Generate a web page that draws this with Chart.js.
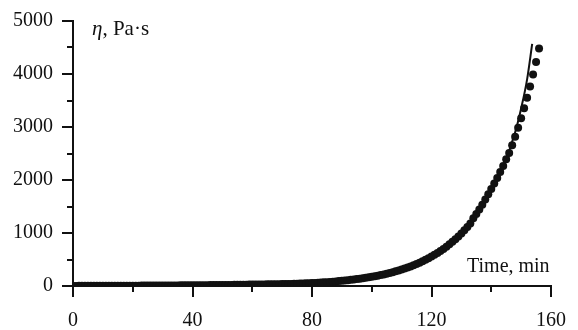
<!DOCTYPE html>
<html>
<head>
<meta charset="utf-8">
<script src="https://cdn.jsdelivr.net/npm/chart.js@4.4.1/dist/chart.umd.min.js"></script>
<style>body{margin:0;background:#fff}</style>
</head>
<body>
<canvas id="viscChart" width="578" height="330"></canvas>
<script>
// measured viscosity, one point per minute starting at t = 0 min
const startMin = 0;
const viscosityMeasured = [
    2, 2, 3, 3, 3, 3, 4, 4, 4, 4, 5, 5, 5, 5, 5, 6, 6, 6, 6, 7,
    7, 7, 7, 8, 8, 8, 8, 9, 9, 9, 10, 10, 10, 11, 11, 11, 12, 12, 12, 13,
    14, 14, 15, 15, 16, 16, 17, 17, 18, 19, 19, 20, 21, 21, 22, 23, 24, 25, 25, 26,
    26, 27, 28, 29, 30, 31, 32, 33, 34, 35, 36, 37, 39, 40, 42, 44, 46, 48, 50, 52,
    55, 58, 61, 65, 69, 73, 77, 82, 87, 92, 97, 103, 109, 116, 123, 130, 138, 146, 155, 164,
    174, 184, 195, 207, 219, 233, 246, 261, 277, 293, 311, 329, 349, 370, 392, 415, 440, 466, 494, 524,
    555, 588, 623, 661, 700, 742, 786, 833, 883, 935, 991, 1051, 1113, 1180, 1280, 1360, 1445, 1535, 1630, 1730,
    1830, 1935, 2040, 2150, 2265, 2390, 2508, 2658, 2816, 2985, 3163, 3352, 3552, 3764, 3989, 4227, 4480
];

// model curve (solid line)
const modelTime = [0, 40, 80, 100, 110, 120, 130, 135, 140, 144, 148, 150, 152, 153.7];
const modelViscosity = [3, 12, 55, 175, 315, 560, 1000, 1340, 1820, 2260, 2900, 3350, 3900, 4570];

const xTicks = [0, 40, 80, 120, 160];
const xMinorTicks = [20, 60, 100, 140];
const yTicks = [0, 1000, 2000, 3000, 4000, 5000];
const yMinorTicks = [500, 1500, 2500, 3500, 4500];

const serif = "'Liberation Serif', 'DejaVu Serif', serif";

const measuredPoints = viscosityMeasured.map((v, i) => ({ x: startMin + i, y: v }));
const modelPoints = modelTime.map((t, i) => ({ x: t, y: modelViscosity[i] }));

// minor ticks and in-plot labels
const extrasPlugin = {
    id: "extras",
    afterDraw(chart) {
        const ctx = chart.ctx;
        const xs = chart.scales.x;
        const ys = chart.scales.y;
        const area = chart.chartArea;
        ctx.save();
        ctx.strokeStyle = "#111";
        ctx.lineWidth = 2;
        ctx.beginPath();
        yMinorTicks.forEach(v => {
            const py = Math.round(ys.getPixelForValue(v));
            ctx.moveTo(area.left - 6, py);
            ctx.lineTo(area.left, py);
        });
        xMinorTicks.forEach(v => {
            const px = Math.round(xs.getPixelForValue(v));
            ctx.moveTo(px, area.bottom);
            ctx.lineTo(px, area.bottom + 6);
        });
        ctx.stroke();

        ctx.fillStyle = "#111";
        ctx.textBaseline = "alphabetic";
        ctx.font = "italic 21px " + serif;
        ctx.fillText("\u03B7", 92, 35);
        const w = ctx.measureText("\u03B7").width;
        ctx.font = "21px " + serif;
        ctx.fillText(", Pa\u00B7s", 92 + w, 35);

        ctx.font = "20px " + serif;
        ctx.fillText("Time, min", 467, 272);
        ctx.restore();
    }
};

const ctx = document.getElementById("viscChart").getContext("2d");
new Chart(ctx, {
    type: "scatter",
    data: {
        datasets: [{
            label: "measured",
            data: measuredPoints,
            showLine: false,
            pointRadius: 4,
            pointBackgroundColor: "#111",
            pointBorderWidth: 0
        }, {
            label: "model",
            data: modelPoints,
            showLine: true,
            borderColor: "#111",
            borderWidth: 2,
            pointRadius: 0,
            cubicInterpolationMode: "monotone"
        }]
    },
    options: {
        responsive: false,
        animation: false,
        layout: { padding: { top: 18, right: 21, left: 0, bottom: 0 } },
        plugins: { legend: { display: false }, tooltip: { enabled: false } },
        scales: {
            x: {
                type: "linear",
                min: 0,
                max: 160,
                afterFit: s => { s.height = 44; },
                afterBuildTicks: s => { s.ticks = xTicks.map(v => ({ value: v })); },
                ticks: { color: "#111", font: { family: serif, size: 20 }, padding: 12, callback: v => String(v) },
                grid: { drawOnChartArea: false, drawTicks: true, tickLength: 11, color: "#111", lineWidth: 2 },
                border: { display: true, color: "#111", width: 2 }
            },
            y: {
                min: 0,
                max: 5000,
                afterFit: s => { s.width = 73; },
                afterBuildTicks: s => { s.ticks = yTicks.map(v => ({ value: v })); },
                ticks: { color: "#111", font: { family: serif, size: 20 }, padding: 9, callback: v => String(v) },
                grid: { drawOnChartArea: false, drawTicks: true, tickLength: 11, color: "#111", lineWidth: 2 },
                border: { display: true, color: "#111", width: 2 }
            }
        }
    },
    plugins: [extrasPlugin]
});
</script>
</body>
</html>
